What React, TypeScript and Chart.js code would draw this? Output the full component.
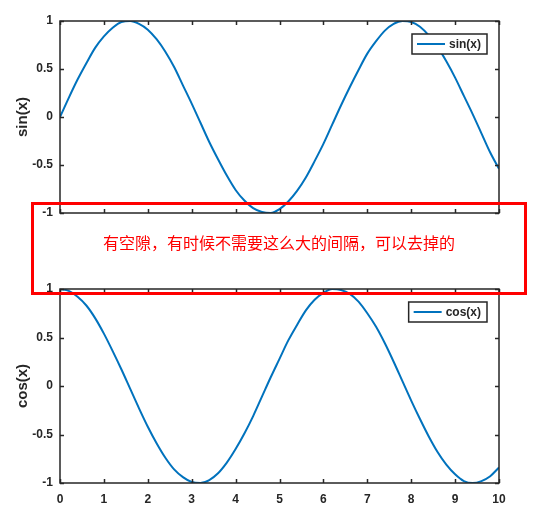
import React from 'react'
import { Chart, registerables, type ChartConfiguration, type Plugin } from 'chart.js'

Chart.register(...registerables)

// Sample points
const xValues = [
  0, 0.2, 0.4, 0.6, 0.8, 1, 1.2, 1.4, 1.6, 1.8, 2, 2.2, 2.4, 2.6, 2.8, 3, 3.2, 3.4, 3.6, 3.8,
  4, 4.2, 4.4, 4.6, 4.8, 5, 5.2, 5.4, 5.6, 5.8, 6, 6.2, 6.4, 6.6, 6.8, 7, 7.2, 7.4, 7.6, 7.8,
  8, 8.2, 8.4, 8.6, 8.8, 9, 9.2, 9.4, 9.6, 9.8, 10
]
const sinValues = [
  0, 0.2, 0.39, 0.56, 0.72, 0.84, 0.93, 0.99, 1, 0.97, 0.91, 0.81, 0.68, 0.52, 0.33, 0.14,
  -0.06, -0.26, -0.44, -0.61, -0.76, -0.87, -0.95, -0.99, -1, -0.96, -0.88, -0.77, -0.63,
  -0.46, -0.28, -0.08, 0.12, 0.31, 0.49, 0.66, 0.79, 0.9, 0.97, 1, 0.99, 0.94, 0.85, 0.73,
  0.58, 0.41, 0.22, 0.03, -0.17, -0.37, -0.54
]
const cosValues = [
  1, 0.98, 0.92, 0.83, 0.7, 0.54, 0.36, 0.17, -0.03, -0.23, -0.42, -0.59, -0.74, -0.86,
  -0.94, -0.99, -1, -0.97, -0.9, -0.79, -0.65, -0.49, -0.31, -0.11, 0.09, 0.28, 0.47, 0.63,
  0.78, 0.89, 0.96, 1, 0.99, 0.95, 0.87, 0.75, 0.61, 0.44, 0.25, 0.05, -0.15, -0.34, -0.52,
  -0.68, -0.81, -0.91, -0.98, -1, -0.98, -0.93, -0.84
]
const xTicks = [0, 1, 2, 3, 4, 5, 6, 7, 8, 9, 10]
const yTicks = [-1, -0.5, 0, 0.5, 1]
const note = '有空隙，有时候不需要这么大的间隔，可以去掉的'

const lineColor = '#0072BD'
const axisColor = '#262626'
const fontFamily = '"Liberation Sans", Arial, sans-serif'

// MATLAB-like box: frame, inward ticks on all sides, boxed legend top-right
const matlabAxes: Plugin = {
  id: 'matlabAxes',
  afterDatasetsDraw(chart) {
    const { ctx, chartArea: a, scales } = chart
    const xs = scales.x
    const ys = scales.y
    const tickLen = 4
    ctx.save()
    ctx.strokeStyle = axisColor
    ctx.lineWidth = 1.5
    ctx.beginPath()
    xs.ticks.forEach(t => {
      const px = Math.round(xs.getPixelForValue(t.value)) + 0.5
      ctx.moveTo(px, a.bottom)
      ctx.lineTo(px, a.bottom - tickLen)
      ctx.moveTo(px, a.top)
      ctx.lineTo(px, a.top + tickLen)
    })
    ys.ticks.forEach(t => {
      const py = Math.round(ys.getPixelForValue(t.value)) + 0.5
      ctx.moveTo(a.left, py)
      ctx.lineTo(a.left + tickLen, py)
      ctx.moveTo(a.right, py)
      ctx.lineTo(a.right - tickLen, py)
    })
    ctx.stroke()
    ctx.strokeRect(a.left, a.top, a.width, a.height)

    // legend
    const ds = chart.data.datasets[0]
    const label = String(ds.label)
    ctx.font = `bold 12px ${fontFamily}`
    const textW = ctx.measureText(label).width
    const boxW = 5 + 28 + 4 + textW + 6
    const boxH = 20
    const bx = a.right - 12 - boxW
    const by = a.top + 13
    ctx.fillStyle = '#ffffff'
    ctx.fillRect(bx, by, boxW, boxH)
    ctx.strokeRect(bx, by, boxW, boxH)
    ctx.strokeStyle = lineColor
    ctx.lineWidth = 2
    ctx.beginPath()
    ctx.moveTo(bx + 5, by + boxH / 2)
    ctx.lineTo(bx + 33, by + boxH / 2)
    ctx.stroke()
    ctx.fillStyle = axisColor
    ctx.textBaseline = 'middle'
    ctx.textAlign = 'left'
    ctx.fillText(label, bx + 37, by + boxH / 2 + 0.5)
    ctx.restore()
  }
}

function makeConfig(
  label: string,
  values: number[],
  padTop: number,
  xHeight: number,
  showXLabels: boolean
): ChartConfiguration<'line'> {
  return {
    type: 'line',
    data: {
      datasets: [
        {
          label,
          data: xValues.map((x, i) => ({ x, y: values[i] })),
          borderColor: lineColor,
          borderWidth: 2,
          pointRadius: 0,
          cubicInterpolationMode: 'monotone'
        }
      ]
    },
    options: {
      animation: false,
      responsive: true,
      maintainAspectRatio: false,
      layout: { padding: { top: padTop, right: 42, left: 0, bottom: 0 } },
      plugins: { legend: { display: false }, tooltip: { enabled: false } },
      scales: {
        x: {
          type: 'linear',
          min: 0,
          max: 10,
          afterBuildTicks: s => {
            s.ticks = xTicks.map(v => ({ value: v }))
          },
          afterFit: s => {
            s.height = xHeight
          },
          grid: { display: false, drawTicks: false },
          border: { display: false },
          ticks: {
            display: showXLabels,
            padding: 9,
            color: axisColor,
            font: { family: fontFamily, size: 12, weight: 'bold' },
            maxRotation: 0,
            callback: v => String(v)
          }
        },
        y: {
          type: 'linear',
          min: -1,
          max: 1,
          afterBuildTicks: s => {
            s.ticks = yTicks.map(v => ({ value: v }))
          },
          afterFit: s => {
            s.width = 60
          },
          grid: { display: false, drawTicks: false },
          border: { display: false },
          ticks: {
            padding: 7,
            color: axisColor,
            font: { family: fontFamily, size: 12, weight: 'bold' },
            callback: v => String(v)
          },
          title: {
            display: true,
            text: label,
            color: axisColor,
            font: { family: fontFamily, size: 15, weight: 'bold' },
            padding: { top: 14, bottom: 0 }
          }
        }
      }
    },
    plugins: [matlabAxes]
  }
}

function SubPlot({
  label,
  values,
  top,
  padTop,
  xHeight,
  showXLabels
}: {
  label: string
  values: number[]
  top: number
  padTop: number
  xHeight: number
  showXLabels: boolean
}) {
  const canvasRef = React.useRef<HTMLCanvasElement>(null)

  React.useEffect(() => {
    if (!canvasRef.current) return
    const chart = new Chart(
      canvasRef.current,
      makeConfig(label, values, padTop, xHeight, showXLabels)
    )
    return () => chart.destroy()
  }, [label, values, padTop, xHeight, showXLabels])

  return (
    <div style={{ position: 'absolute', left: 0, top, width: 541, height: 262 }}>
      <canvas ref={canvasRef} />
    </div>
  )
}

export default function App() {
  return (
    <div
      style={{
        position: 'fixed',
        left: 0,
        top: 0,
        width: 541,
        height: 524,
        background: '#ffffff',
        overflow: 'hidden'
      }}
    >
      <SubPlot label="sin(x)" values={sinValues} top={0} padTop={21} xHeight={49} showXLabels={false} />
      <SubPlot label="cos(x)" values={cosValues} top={262} padTop={27} xHeight={41} showXLabels={true} />
      {/* red annotation box over the gap */}
      <div
        style={{
          position: 'absolute',
          left: 31,
          top: 202,
          width: 496,
          height: 93,
          boxSizing: 'border-box',
          border: '3px solid #ff0000'
        }}
      />
      <div
        style={{
          position: 'absolute',
          left: 31,
          top: 233,
          width: 496,
          textAlign: 'center',
          color: '#ff0000',
          fontFamily: '"Noto Sans CJK SC", sans-serif',
          fontSize: 16,
          lineHeight: '18px'
        }}
      >
        {note}
      </div>
    </div>
  )
}
